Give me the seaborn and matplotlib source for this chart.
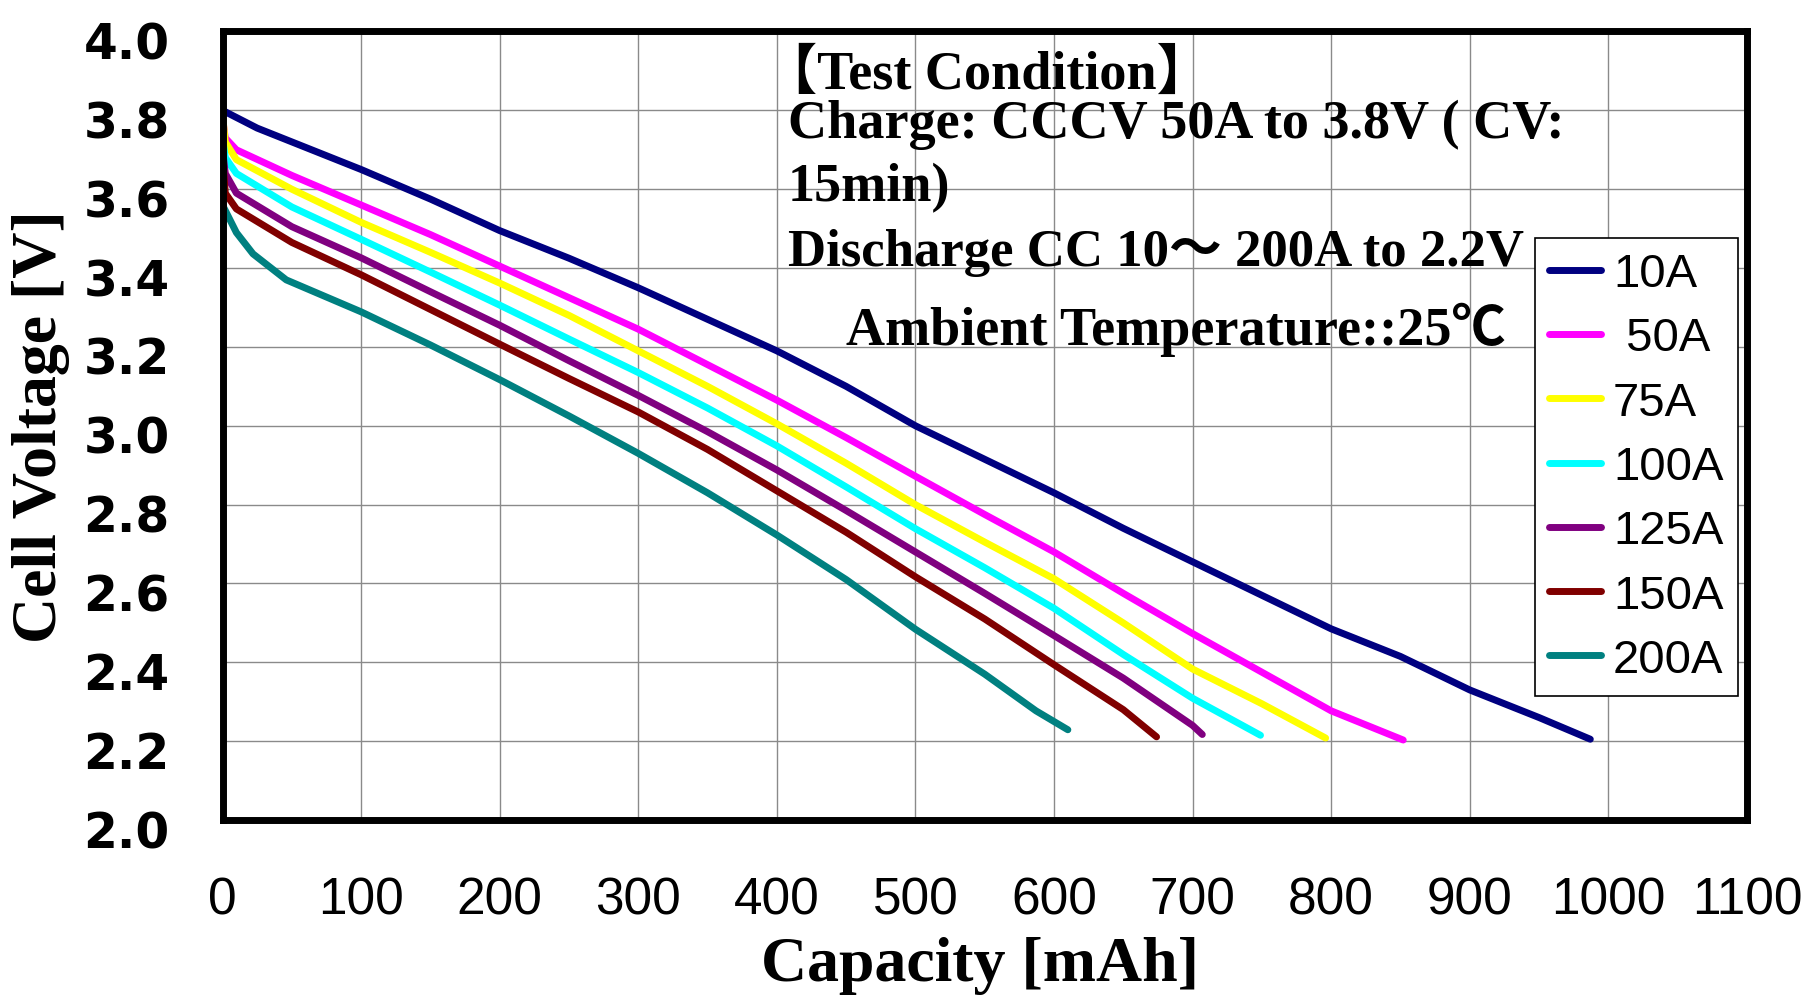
import numpy as np
import pandas as pd
import seaborn as sns
import matplotlib.pyplot as plt
from matplotlib import transforms

# discharge curves (capacity mAh, cell voltage V)
currents = ["10A", "50A", "75A", "100A", "125A", "150A", "200A"]
colors = ["#000080", "#FF00FF", "#FFFF00", "#00FFFF", "#800080", "#800000", "#008080"]

cap_10 = [0, 25, 50, 100, 150, 200, 250, 300, 350, 400, 450, 500, 550, 600, 650, 700, 750, 800, 850, 900, 950, 987]
volt_10 = [3.80, 3.755, 3.72, 3.65, 3.575, 3.495, 3.425, 3.35, 3.27, 3.19, 3.10, 3.00, 2.915, 2.83, 2.74, 2.655, 2.57, 2.485, 2.415, 2.33, 2.26, 2.205]

cap_50 = [0, 2, 10, 50, 100, 150, 200, 250, 300, 350, 400, 450, 500, 550, 600, 650, 700, 750, 800, 852]
volt_50 = [3.78, 3.73, 3.70, 3.635, 3.56, 3.485, 3.405, 3.325, 3.245, 3.155, 3.065, 2.97, 2.872, 2.775, 2.68, 2.575, 2.473, 2.375, 2.277, 2.203]

cap_75 = [0, 2, 10, 50, 100, 150, 200, 250, 300, 350, 400, 450, 500, 550, 600, 650, 700, 750, 796]
volt_75 = [3.79, 3.72, 3.675, 3.60, 3.516, 3.44, 3.362, 3.28, 3.19, 3.10, 3.005, 2.905, 2.80, 2.705, 2.612, 2.50, 2.383, 2.295, 2.208]

cap_100 = [0, 2, 10, 50, 100, 150, 200, 250, 300, 350, 400, 450, 500, 550, 600, 650, 700, 749]
volt_100 = [3.73, 3.68, 3.64, 3.555, 3.473, 3.39, 3.306, 3.22, 3.135, 3.045, 2.949, 2.845, 2.739, 2.64, 2.537, 2.42, 2.309, 2.215]

cap_125 = [0, 2, 10, 50, 100, 150, 200, 250, 300, 350, 400, 450, 500, 550, 600, 650, 700, 707]
volt_125 = [3.70, 3.64, 3.59, 3.505, 3.426, 3.34, 3.255, 3.165, 3.077, 2.985, 2.888, 2.785, 2.68, 2.575, 2.468, 2.36, 2.24, 2.217]

cap_150 = [0, 2, 10, 50, 100, 150, 200, 250, 300, 350, 400, 450, 500, 550, 600, 650, 674]
volt_150 = [3.68, 3.59, 3.55, 3.465, 3.383, 3.295, 3.207, 3.12, 3.035, 2.94, 2.835, 2.73, 2.617, 2.51, 2.394, 2.28, 2.211]

cap_200 = [0, 0, 10, 22, 46, 100, 150, 200, 250, 300, 350, 400, 450, 500, 550, 587, 610]
volt_200 = [3.73, 3.56, 3.49, 3.436, 3.37, 3.289, 3.205, 3.117, 3.025, 2.93, 2.83, 2.723, 2.61, 2.484, 2.37, 2.277, 2.229]

caps = [cap_10, cap_50, cap_75, cap_100, cap_125, cap_150, cap_200]
volts = [volt_10, volt_50, volt_75, volt_100, volt_125, volt_150, volt_200]

frames = []
for cur, c, v in zip(currents, caps, volts):
    frames.append(pd.DataFrame({"Capacity": c, "Voltage": v, "Current": cur}))
df = pd.concat(frames, ignore_index=True)

sns.set_style("white")
plt.rcParams.update({"text.color": "black", "axes.labelcolor": "black",
                     "xtick.color": "black", "ytick.color": "black"})

fig = plt.figure(figsize=(18.18, 10.03), dpi=100)
ax = fig.add_axes([0.1224, 0.1814, 0.8385, 0.7862])

sns.lineplot(data=df, x="Capacity", y="Voltage", hue="Current", hue_order=currents,
             palette=colors, sort=False, estimator=None, linewidth=5, ax=ax)

ax.set_xlim(0, 1100)
ax.set_ylim(2.0, 4.0)
ax.set_xticks(np.arange(0, 1101, 100))
ax.set_yticks(np.arange(2.0, 4.01, 0.2))
ax.set_yticklabels([f"{t:.1f}" for t in np.arange(2.0, 4.01, 0.2)])

ax.grid(True, color="#8a8a8a", linewidth=1.0)
ax.set_axisbelow(True)
for s in ax.spines.values():
    s.set_visible(True)
    s.set_color("black")
    s.set_linewidth(5)

ax.tick_params(axis="both", direction="in", length=9, width=1, color="black", labelcolor="black")
ax.tick_params(axis="x", pad=40)
ax.tick_params(axis="y", pad=38)
for lab in ax.get_xticklabels():
    lab.set_fontfamily("Liberation Sans")
    lab.set_fontsize(37)
shift = transforms.ScaledTranslation(0, -8 / 100, fig.dpi_scale_trans)
for lab in ax.get_yticklabels():
    lab.set_fontfamily("DejaVu Sans")
    lab.set_fontweight("bold")
    lab.set_fontsize(35)
    lab.set_transform(lab.get_transform() + shift)

ax.set_xlabel("Capacity [mAh]", fontfamily="Liberation Serif", fontweight="bold",
              fontsize=46, va="center", color="black")
ax.set_ylabel("Cell Voltage [V]", fontfamily="Liberation Serif", fontweight="bold",
              fontsize=46, va="center", color="black")
ax.xaxis.set_label_coords(0.497, -0.184)
ax.yaxis.set_label_coords(-0.1194, 0.5)

# legend
handles, labels = ax.get_legend_handles_labels()
for h in handles:
    h.set_linewidth(5)
labels = [" 50A" if l == "50A" else l for l in labels]
leg = ax.legend(handles, labels, loc="upper left", bbox_to_anchor=(1535 / 1818, 1 - 239 / 1003),
                bbox_transform=fig.transFigure, borderaxespad=0, fancybox=False,
                framealpha=1, edgecolor="black", handlelength=1.1, handletextpad=0.25,
                labelspacing=0.43, borderpad=0.3,
                prop={"family": "Liberation Sans", "size": 34})
leg.get_frame().set_linewidth(1.2)
for t in leg.get_texts():
    t.set_color("black")

# test condition block
serif = ["Liberation Serif", "Noto Sans CJK JP", "DejaVu Serif"]
lines = [
    ("【Test Condition】", 763, 75, 39),
    ("Charge: CCCV 50A to 3.8V ( CV:", 788, 125, 39),
    ("15min)", 788, 188, 39),
    ("Discharge CC 10～ 200A to 2.2V", 788, 253, 38),
    ("Ambient Temperature::25℃", 846, 330, 39),
]
for txt, px, py, fs in lines:
    fig.text(px / 1818, 1 - py / 1003, txt, family=serif, fontweight="bold",
             fontsize=fs, ha="left", va="center", color="black")

fig.savefig("out.png", dpi=100, facecolor="white")
